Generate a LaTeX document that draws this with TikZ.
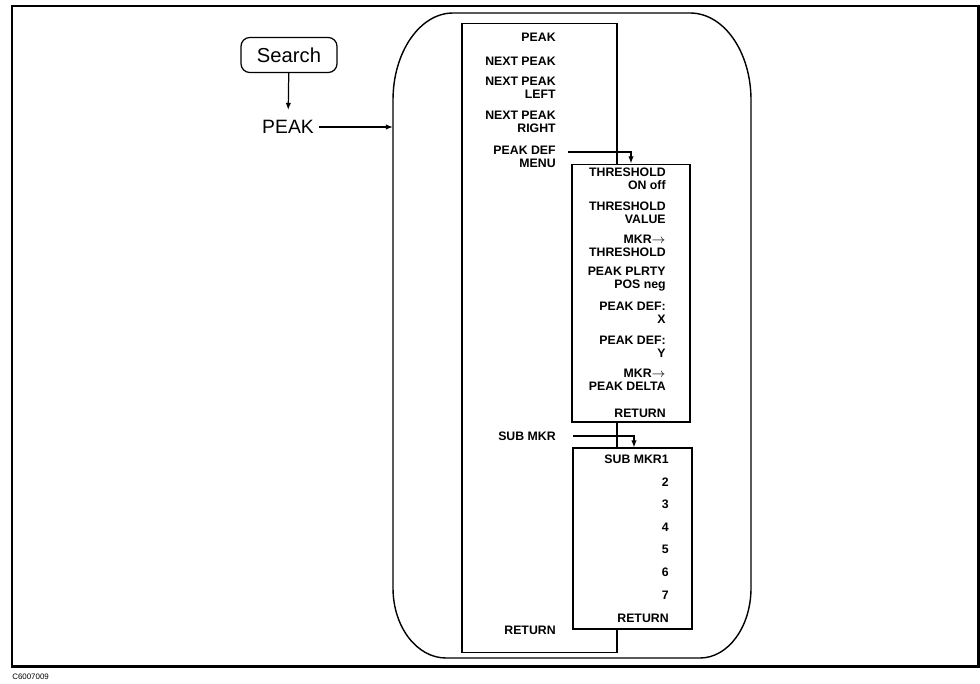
\documentclass[tikz,border=0pt]{standalone}
\usepackage{fontspec}
\setmainfont{Liberation Sans}
\usetikzlibrary{arrows.meta,positioning}

\tikzset{
  menubox/.style={draw, fill=white, line width=0.6pt, inner sep=0pt},
  key/.style={anchor=east, align=right, inner sep=0pt,
    font=\fontsize{7}{7.4}\selectfont\bfseries},
  conn/.style={line width=0.7pt, -{Latex[length=4pt,width=3pt]}},
}

\begin{document}
\begin{tikzpicture}[x=0.02cm,y=-0.02cm]
    \useasboundingbox (0,0) rectangle (980,683);
    \draw[line width=1.7pt] (12,6) rectangle (978,666);
    \node[anchor=west, inner sep=0pt, font=\fontsize{4.5}{5}\selectfont] (fignum) at (12,677) {C6007009};

    \node[draw, line width=0.7pt, rounded corners=5pt, minimum width=1.92cm, minimum height=0.7cm,
          inner sep=0pt, font=\fontsize{11.5}{12}\selectfont] (search) at (289,55) {Search};
    \node[inner xsep=2.8pt, inner ysep=5.7pt, font=\fontsize{11}{12}\selectfont] (peak) at (288,127) {PEAK};
    \draw[conn] (search) -- (peak);

        % rounded group round the menus
        \draw[line width=0.8pt] (393,100) .. controls (393,52) and (420,13) .. (453,13)
            -- (690,13) .. controls (724,13) and (751,52) .. (751,100)
            -- (751,588) .. controls (751,627) and (728,658) .. (700,658)
            -- (446,658) .. controls (417,658) and (393,627) .. (393,588) -- cycle;
        \coordinate (grpin) at (393,127);
        \draw[conn] (peak.east) -- (peak.east -| grpin);

        % main menu
        \node[menubox, minimum width=3.1cm, minimum height=12.6cm] (mainmenu) at (539.5,338) {};
        \node[key] (pk) at (556,37) {PEAK};
        \node[key] (nxt) at (556,61) {NEXT PEAK};
        \node[key] (nxtl) at (556,88) {NEXT PEAK\\LEFT};
        \node[key] (nxtr) at (556,122) {NEXT PEAK\\RIGHT};
        \node[key] (pkdef) at (556,157) {PEAK DEF\\MENU};
        \node[key] (submkr) at (556,436) {SUB MKR};
        \node[key] (ret) at (556,630) {RETURN};

        % peak def menu
        \node[menubox, minimum width=2.36cm, minimum height=5.16cm] (defmenu) at (631,293) {};
        \foreach \txt [count=\i] in {{THRESHOLD\\ON off},{THRESHOLD\\VALUE},
            {MKR$\rightarrow$\\THRESHOLD},{PEAK PLRTY\\POS neg},{PEAK DEF:\\X},
            {PEAK DEF:\\Y},{MKR$\rightarrow$\\PEAK DELTA},{RETURN}}
          \node[key] (def\i) at (666,{179+(\i-1)*33.5}) {\txt};

        % sub marker menu
        \node[menubox, minimum width=2.38cm, minimum height=3.62cm] (submenu) at (632.5,538.5) {};
        \foreach \txt [count=\i] in {SUB MKR1,2,3,4,5,6,7,RETURN}
          \node[key] (sub\i) at (669,{459+(\i-1)*22.7}) {\txt};

        \coordinate (defout) at (568,152);
        \coordinate (subout) at (573,436);
        \draw[conn] (defout) -| (defmenu.north);
        \draw[conn] (subout) -| ([xshift=0.03cm]submenu.north);
\end{tikzpicture}
\end{document}
